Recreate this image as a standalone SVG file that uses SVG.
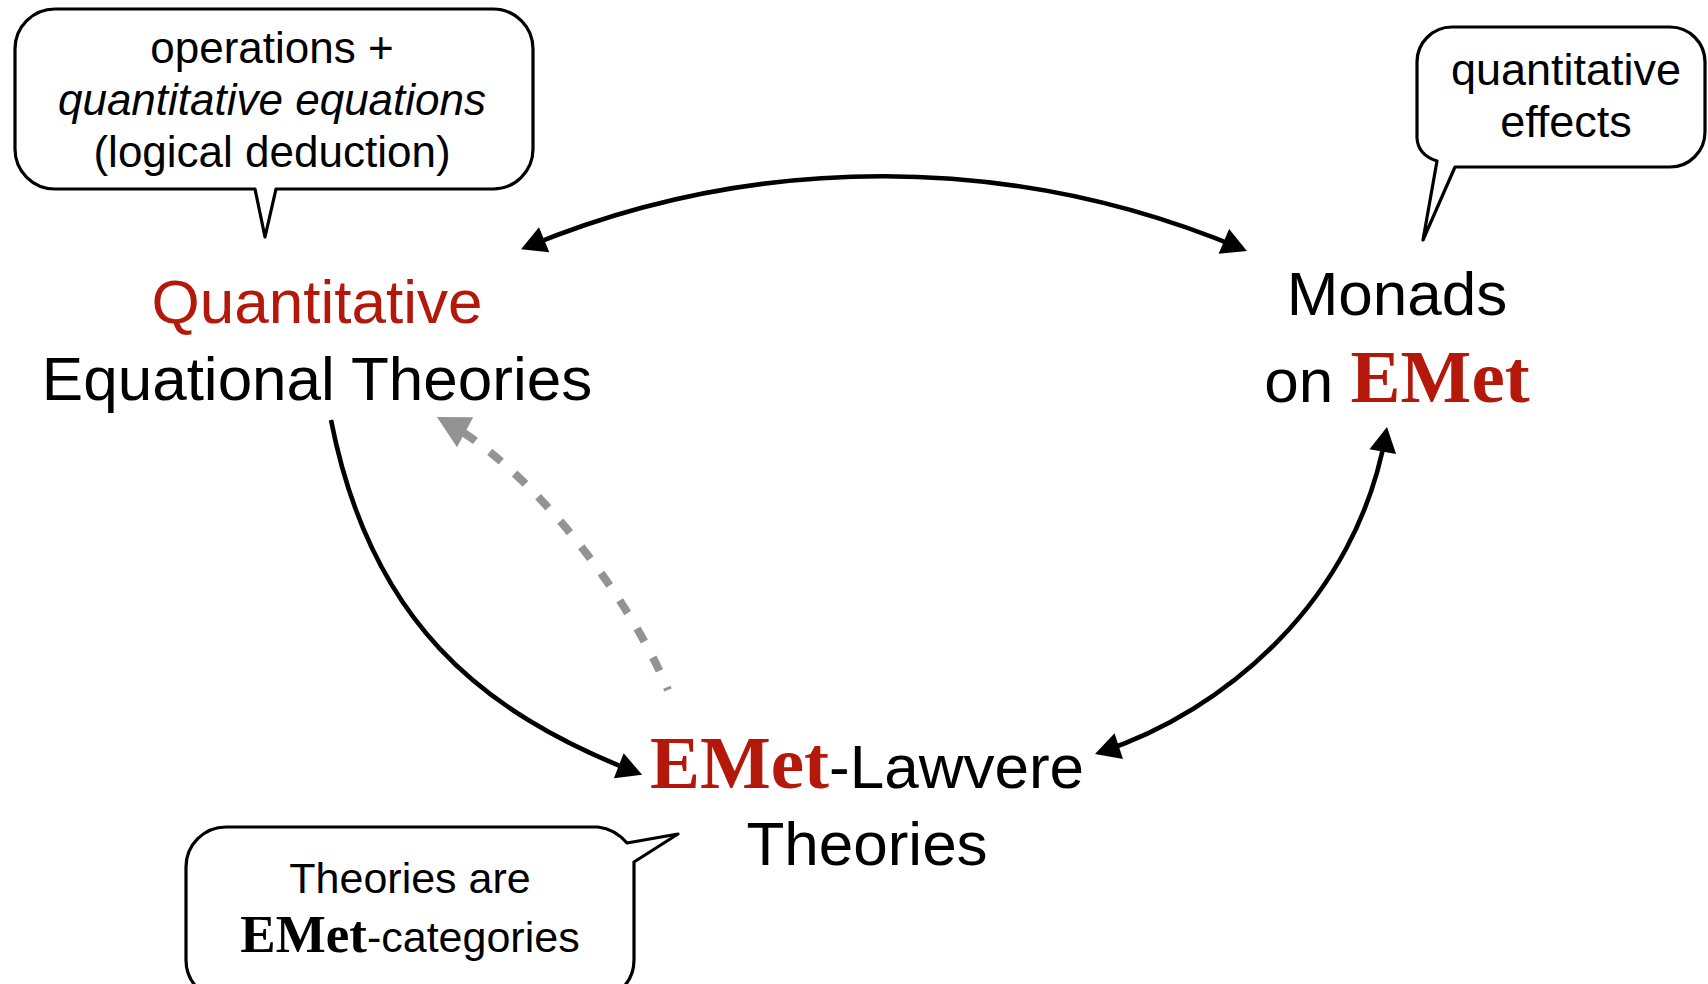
<svg xmlns="http://www.w3.org/2000/svg" width="1708" height="984" viewBox="0 0 1708 984">
  <style>
    .sans { font-family: "Liberation Sans", Arial, Helvetica, sans-serif; }
    .bold-serif { font-family: "Liberation Serif", "Times New Roman", serif; font-weight: bold; }
    .red { fill: #b3180b; }
    .ink { fill: #000000; }
    .node-text { font-size: 62px; }
    .note-text { font-size: 44px; }
    .bubble { fill: #ffffff; stroke: #000000; stroke-width: 3.2; stroke-linejoin: round; }
    .edge { fill: none; stroke: #000000; stroke-width: 4.6; }
    .edge-dashed { fill: none; stroke: #939393; stroke-width: 8; stroke-dasharray: 15 18; stroke-dashoffset: 12; }
  </style>
  <defs>
    <marker id="arrow-black" markerUnits="userSpaceOnUse" markerWidth="40" markerHeight="40" refX="0" refY="0" orient="auto-start-reverse" overflow="visible">
      <path d="M-19,-13.5 L6,0 L-19,13.5 Z" fill="#000000" stroke="none"/>
    </marker>
    <marker id="arrow-gray" markerUnits="userSpaceOnUse" markerWidth="50" markerHeight="50" refX="0" refY="0" orient="auto" overflow="visible">
      <path d="M-24,-17 L8,0 L-24,17 Z" fill="#939393" stroke="none"/>
    </marker>
  </defs>

  <rect width="1708" height="984" fill="#ffffff"/>

  <!-- connectors -->
  <g id="connectors">
    <path id="edge-qet-monads" class="edge" d="M526.6,247 A927,927 0 0 1 1241.4,248.7" marker-start="url(#arrow-black)" marker-end="url(#arrow-black)"/>
    <path id="edge-qet-lawvere" class="edge" d="M331,420 C370,620 480,712 636.5,772.6" marker-end="url(#arrow-black)"/>
    <path id="edge-lawvere-monads" class="edge" d="M1100.7,752.1 C1224.2,711.8 1357.1,600.4 1386,432.9" marker-start="url(#arrow-black)" marker-end="url(#arrow-black)"/>
    <path id="edge-lawvere-qet" class="edge-dashed" d="M668,690 C629,596 531.8,468.4 444,420.8" marker-end="url(#arrow-gray)"/>
  </g>

  <!-- node: quantitative equational theories -->
  <g id="node-qet" class="sans node-text" text-anchor="middle">
    <text x="317" y="323" class="red">Quantitative</text>
    <text x="317" y="400" class="ink">Equational Theories</text>
  </g>

  <!-- node: monads on EMet -->
  <g id="node-monads" class="node-text" text-anchor="middle">
    <text x="1397" y="315" class="sans ink">Monads</text>
    <text x="1397" y="402" class="sans ink">on <tspan class="bold-serif red" font-size="75">EMet</tspan></text>
  </g>

  <!-- node: EMet-Lawvere theories -->
  <g id="node-lawvere" class="node-text" text-anchor="middle">
    <text x="867" y="788" class="sans ink"><tspan class="bold-serif red" font-size="75">EMet</tspan>-Lawvere</text>
    <text x="867" y="865" class="sans ink">Theories</text>
  </g>

  <!-- callout: operations and equations -->
  <g id="note-operations">
    <path class="bubble" d="M55,9 L493,9 A40,40 0 0 1 533,49 L533,149 A40,40 0 0 1 493,189 L276,189 L265,237 L255,189 L55,189 A40,40 0 0 1 15,149 L15,49 A40,40 0 0 1 55,9 Z"/>
    <g class="sans note-text ink" text-anchor="middle">
      <text x="272" y="63">operations +</text>
      <text x="272" y="115" font-style="italic">quantitative equations</text>
      <text x="272" y="167">(logical deduction)</text>
    </g>
  </g>

  <!-- callout: quantitative effects -->
  <g id="note-effects">
    <path class="bubble" d="M1455,167 L1670,167 A35,35 0 0 0 1705,132 L1705,62 A35,35 0 0 0 1670,27 L1452,27 A35,35 0 0 0 1417,62 L1417,138 Q1418,155 1437,161 L1423,240 Z"/>
    <g class="sans ink" font-size="45" text-anchor="middle">
      <text x="1566" y="85">quantitative</text>
      <text x="1566" y="137">effects</text>
    </g>
  </g>

  <!-- callout: theories as enriched categories -->
  <g id="note-categories">
    <path class="bubble" d="M627,843 L678,834 L634,862 L634,960 A40,40 0 0 1 594,1000 L226,1000 A40,40 0 0 1 186,960 L186,867 A40,40 0 0 1 226,827 L598,827 Q615,829 627,843 Z"/>
    <g class="sans ink" font-size="43" text-anchor="middle">
      <text x="410" y="893">Theories are</text>
      <text x="410" y="952"><tspan class="bold-serif" font-size="53">EMet</tspan>-categories</text>
    </g>
  </g>
</svg>
